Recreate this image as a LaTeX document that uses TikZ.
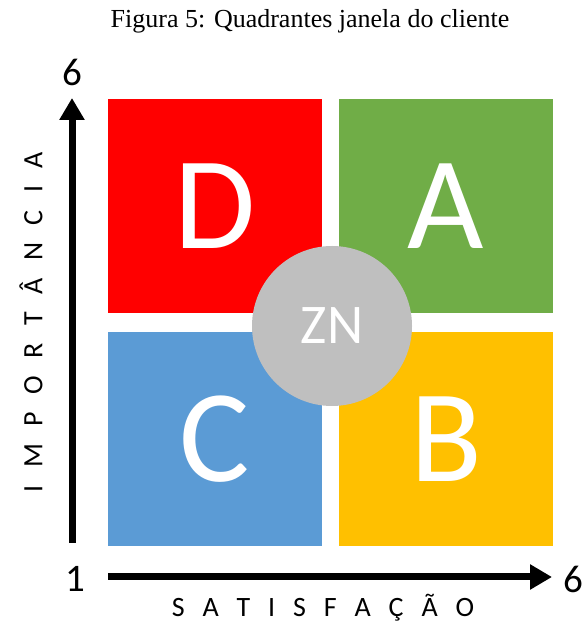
\documentclass[tikz,border=0pt]{standalone}
\usepackage{fontspec}
\setmainfont{Liberation Serif}
\newfontfamily\quadfont{Carlito}
\usetikzlibrary{arrows.meta}
\definecolor{qred}{HTML}{FF0000}
\definecolor{qgreen}{HTML}{70AD47}
\definecolor{qblue}{HTML}{5B9BD5}
\definecolor{qyellow}{HTML}{FFC000}
\definecolor{qgray}{HTML}{BFBFBF}
\newcommand{\gapx}{\hspace{17.9pt}}
\newcommand{\gapy}{\hspace{17.5pt}}
\begin{document}
\begin{tikzpicture}[x=1pt,y=1pt,
  quad/.style={minimum width=214pt,minimum height=214pt,inner sep=0pt,
    text=white,font=\quadfont\fontsize{132}{132}\selectfont},
  axis/.style={line width=7pt,-{Triangle[length=22pt,width=24pt]}},
  tick/.style={font=\quadfont\fontsize{39}{39}\selectfont},
  axislabel/.style={font=\quadfont\fontsize{28}{28}\selectfont,inner sep=0pt}]
\useasboundingbox (0,0) rectangle (584,623);
% title
\node (title) at (310,602) {\fontsize{26}{26}\selectfont Figura 5: Quadrantes janela do cliente};
% four quadrants
\node[quad,fill=qred]    (D) at (215,417) {D};
\node[quad,fill=qgreen]  (A) at (446,417) {A};
\node[quad,fill=qblue]   (C) at (215,184) {C};
\node[quad,fill=qyellow] (B) at (446,184) {B};
% neutral zone
\node[circle,fill=qgray,minimum size=160pt,inner sep=0pt,text=white,
  font=\quadfont\fontsize{56}{56}\selectfont] (ZN) at (332,297) {ZN};
% axes
\coordinate (yfrom) at (72,80);
\coordinate (yto) at (72,525);
\coordinate (xfrom) at (108,46);
\coordinate (xto) at (552,46);
\draw[axis] (yfrom) -- (yto);
\draw[axis] (xfrom) -- (xto);
\node[tick] (ymax) at (72,551) {6};
\node[tick] (xmin) at (75,44) {1};
\node[tick] (xmax) at (573,44) {6};
\node[axislabel] (xlab) at (323,15) {S\gapx A\gapx T\gapx I\gapx S\gapx F\gapx A\gapx Ç\gapx Ã\gapx O};
\node[axislabel,rotate=90] (ylab) at (31,301) {I\gapy M\gapy P\gapy O\gapy R\gapy T\gapy Â\gapy N\gapy C\gapy I\gapy A};
\end{tikzpicture}
\end{document}
